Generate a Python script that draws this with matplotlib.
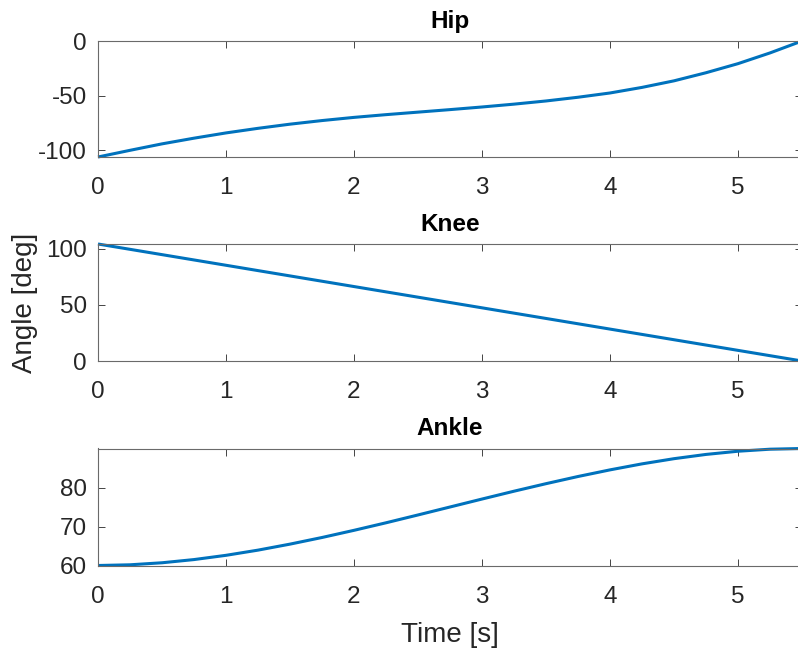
import matplotlib
matplotlib.use("Agg")
import matplotlib.pyplot as plt

# Joint trajectories sampled every 0.25 s
time_s = [0.0, 0.25, 0.5, 0.75, 1.0, 1.25, 1.5, 1.75, 2.0, 2.25, 2.5, 2.75,
          3.0, 3.25, 3.5, 3.75, 4.0, 4.25, 4.5, 4.75, 5.0, 5.25, 5.5]

hip_deg = [-106.0, -99.9, -94.0, -88.8, -84.0, -79.8, -76.0, -72.7, -69.8,
           -67.3, -65.0, -62.7, -60.3, -57.7, -54.8, -51.4, -47.5, -42.4,
           -36.4, -29.0, -20.7, -10.9, 0.0]

knee_deg = [104.3, 99.56, 94.82, 90.08, 85.34, 80.59, 75.85, 71.11, 66.37,
            61.63, 56.89, 52.15, 47.41, 42.67, 37.93, 33.19, 28.45, 23.70,
            18.96, 14.22, 9.48, 4.74, 0.0]

ankle_deg = [60.0, 60.18, 60.70, 61.52, 62.61, 63.94, 65.48, 67.18, 69.02,
             70.95, 72.96, 75.0, 77.04, 79.05, 80.98, 82.82, 84.52, 86.06,
             87.39, 88.48, 89.30, 89.82, 90.0]

titles = ["Hip", "Knee", "Ankle"]
series = [hip_deg, knee_deg, ankle_deg]
ylims = [(-106, 0), (0, 104.3), (60, 90)]
yticks = [[-100, -50, 0], [0, 50, 100], [60, 70, 80]]
xticks = [0, 1, 2, 3, 4, 5]

plt.rcParams['font.family'] = ['Liberation Sans', 'DejaVu Sans']
plt.rcParams['axes.unicode_minus'] = False
axis_col = '#262626'
line_col = '#0072BD'

W, H = 798, 649
fig = plt.figure(figsize=(W / 100, H / 100), dpi=100)

# axes boxes in pixels: (top, bottom)
boxes = [(41, 157), (244, 361), (448.5, 565.5)]
left_px, right_px = 98, 802

axes = []
for (top, bot), name, y, yl, yt in zip(boxes, titles, series, ylims, yticks):
    ax = fig.add_axes([left_px / W, 1 - bot / H,
                       (right_px - left_px) / W, (bot - top) / H])
    ax.plot(time_s, y, color=line_col, linewidth=2.2, clip_on=False,
            solid_capstyle='butt')
    ax.set_xlim(0, 5.5)
    ax.set_ylim(*yl)
    ax.set_xticks(xticks)
    ax.set_yticks(yt)
    ax.set_title(name, fontsize=17.5, fontweight='bold', color='black', pad=9.5)
    ax.tick_params(direction='in', length=5, width=0.6, color=axis_col,
                   labelsize=17.5, labelcolor=axis_col,
                   top=True, right=True)
    ax.tick_params(axis='y', pad=8)
    ax.tick_params(axis='x', pad=14.5)
    for sp in ax.spines.values():
        sp.set_color('#6a6a6a')
        sp.set_linewidth(0.8)
    axes.append(ax)

axes[1].set_ylabel('Angle [deg]', fontsize=20, color=axis_col, labelpad=6)
axes[2].set_xlabel('Time [s]', fontsize=20, color=axis_col, labelpad=10)

fig.savefig('out.png', dpi=100)
